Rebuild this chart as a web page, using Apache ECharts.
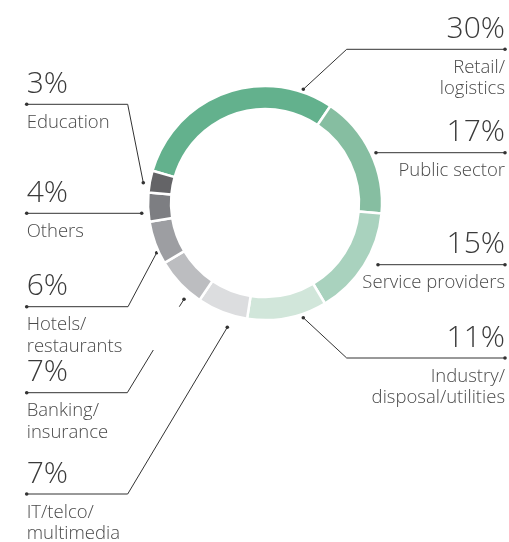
<!DOCTYPE html>
<html>
<head>
<meta charset="utf-8">
<script src="https://cdn.jsdelivr.net/npm/echarts@6/dist/echarts.min.js"></script>
<style>
  html, body { margin: 0; padding: 0; background: #fff; }
  #chart { width: 509px; height: 542px; }
</style>
</head>
<body>
<div id="chart"></div>
<script>
// Customer sectors, share of total (%), clockwise from the top-left
const categories = [
  'Retail/\nlogistics',
  'Public sector',
  'Service providers',
  'Industry/\ndisposal/utilities',
  'IT/telco/\nmultimedia',
  'Banking/\ninsurance',
  'Hotels/\nrestaurants',
  'Others',
  'Education'
];
const shares = [30, 17, 15, 11, 7, 7, 6, 4, 3];
const sliceColors = [
  '#63b18d', '#86bea1', '#a9d2be', '#d1e6da',
  '#dcdddf', '#bcbdc0', '#9d9ea2', '#7d7e82', '#646467'
];

// Callout geometry: side, leader points (text end first), extra stub segment
const callouts = [
  { side: 'right', y: 49.3,  pts: [[505, 49.3], [346.7, 49.3], [303.3, 89.3]] },
  { side: 'right', y: 152.7, pts: [[505, 152.7], [376, 152.7]] },
  { side: 'right', y: 264.7, pts: [[505, 264.7], [378, 264.7]] },
  { side: 'right', y: 358,   pts: [[505, 358], [346.7, 358], [303.3, 317.7]] },
  { side: 'left',  y: 494,   pts: [[26.7, 494], [127.7, 494], [227.3, 327.3]] },
  { side: 'left',  y: 392.7, pts: [[26.7, 392.7], [127.3, 392.7], [153.3, 350]],
    stub: [[179.3, 306.7], [184, 299.3]] },
  { side: 'left',  y: 306.7, pts: [[26.7, 306.7], [128, 306.7], [156.7, 252.7]] },
  { side: 'left',  y: 213.3, pts: [[26.7, 213.3], [141.7, 213.3]] },
  { side: 'left',  y: 104.3, pts: [[26.7, 104.3], [127.7, 104.3], [143.3, 182.7]] }
];

const FONT = '"Open Sans", "Noto Sans", sans-serif';
const lineColor = '#333333';
const graphics = [];

callouts.forEach(function (c, i) {
  const x = c.pts[0][0];
  const align = c.side === 'right' ? 'right' : 'left';
  graphics.push({
    type: 'polyline',
    silent: true,
    shape: { points: c.pts },
    style: { stroke: lineColor, lineWidth: 1, fill: null }
  });
  if (c.stub) {
    graphics.push({
      type: 'polyline',
      silent: true,
      shape: { points: c.stub },
      style: { stroke: lineColor, lineWidth: 1, fill: null }
    });
  }
  const first = c.pts[0];
  const last = c.stub ? c.stub[c.stub.length - 1] : c.pts[c.pts.length - 1];
  [first, last].forEach(function (p) {
    graphics.push({
      type: 'circle',
      silent: true,
      shape: { cx: p[0], cy: p[1], r: 1.8 },
      style: { fill: lineColor }
    });
  });
  graphics.push({
    type: 'text',
    silent: true,
    style: {
      text: shares[i] + '%',
      x: x,
      y: c.y - 5,
      align: align,
      verticalAlign: 'bottom',
      fontFamily: FONT,
      fontWeight: 300,
      fontSize: 30,
      lineHeight: 30,
      fill: '#3a3a3a'
    }
  });
  graphics.push({
    type: 'text',
    silent: true,
    style: {
      text: categories[i],
      x: x,
      y: c.y + 7.5,
      align: align,
      verticalAlign: 'top',
      fontFamily: FONT,
      fontWeight: 300,
      fontSize: 18.5,
      lineHeight: 21.5,
      fill: '#4a4a4a'
    }
  });
});

const chart = echarts.init(document.getElementById('chart'), null, { renderer: 'canvas' });
chart.setOption({
  animation: false,
  backgroundColor: '#ffffff',
  series: [{
    type: 'pie',
    center: [265, 203],
    radius: [94, 117],
    startAngle: 164,
    clockwise: true,
    silent: true,
    label: { show: false },
    labelLine: { show: false },
    itemStyle: { borderColor: '#ffffff', borderWidth: 2.5 },
    data: categories.map(function (name, i) {
      return { name: name, value: shares[i], itemStyle: { color: sliceColors[i] } };
    })
  }],
  graphic: graphics
});
</script>
</body>
</html>
